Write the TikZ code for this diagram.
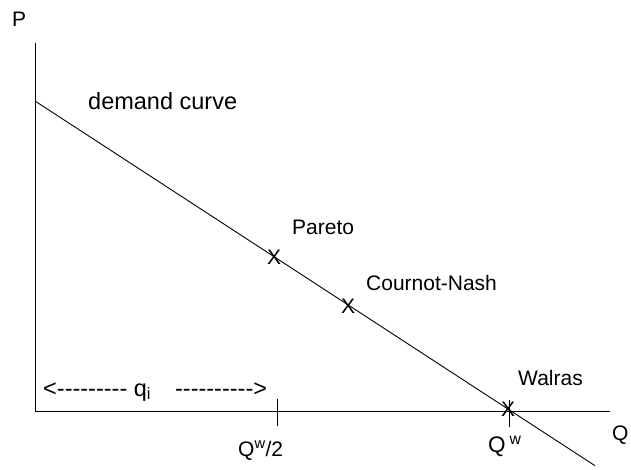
\documentclass[tikz,border=0pt]{standalone}
\usepackage{fontspec}
\newfontfamily\lblfont{Liberation Sans}
\usetikzlibrary{calc}

\begin{document}
\begin{tikzpicture}[
  x=1pt, y=-1pt,
  lbl/.style={anchor=base west, inner sep=0pt, font=\lblfont\fontsize{21}{25}\selectfont},
  biglbl/.style={lbl, font=\lblfont\fontsize{23.5}{28}\selectfont},
  xmark/.style={inner sep=0pt, font=\lblfont\fontsize{21}{25}\selectfont},
  axis/.style={line width=0.9pt},
  tick/.style={line width=0.9pt},
]
\useasboundingbox (0,0) rectangle (631,470);

% axes
\coordinate (ptop) at (35,43);
\coordinate (orig) at (35,411);
\coordinate (qend) at (610,411);
\draw[axis] (ptop) -- (orig) -- (qend);

% demand line
\coordinate (dtop) at (35,101);
\coordinate (dend) at (595,465.7);
\draw[axis] (dtop) -- (dend);

% ticks on the Q axis
\coordinate (halftop) at (277,399);
\coordinate (halfbot) at (277,426);
\coordinate (wtop) at (509,400);
\coordinate (wbot) at (509,427);
\draw[tick] (halftop) -- (halfbot);
\draw[tick] (wtop) -- (wbot);

% points on the curve
\node[xmark] (pareto) at (274,257) {X};
\node[xmark] (cournot) at (348,306) {X};
\node[xmark] (walras) at (508,409) {X};

% labels
\node[lbl] (plbl) at (12,27) {P};
\node[biglbl] (demand) at (88,110) {demand curve};
\node[lbl] (paretolbl) at (292,235) {Pareto};
\node[lbl] (cournotlbl) at (366,290) {Cournot-Nash};
\node[lbl] (walraslbl) at (518,385) {Walras};
\node[biglbl] (qi) at (43,396) {<--------- q\textsubscript{i}\hspace{24pt}---------->};
\node[lbl] (halflbl) at (238,456) {Q\textsuperscript{w}/2};
\node[lbl, font=\lblfont\fontsize{22.5}{27}\selectfont] (qwlbl) at (488,452) {Q\hspace{4pt}\textsuperscript{w}};
\node[lbl] (qlbl) at (612,440) {Q};
\end{tikzpicture}
\end{document}
